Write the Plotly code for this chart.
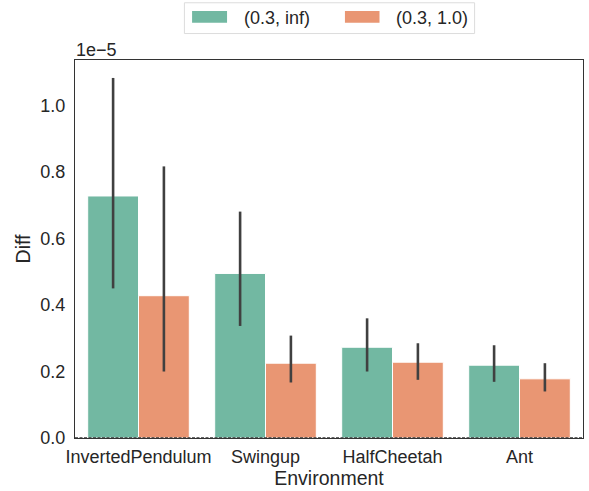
import plotly.graph_objects as go

categories = ["InvertedPendulum", "Swingup", "HalfCheetah", "Ant"]
scale = 1e-5
inf_mean = [0.728, 0.495, 0.273, 0.219]
inf_lo = [0.450, 0.337, 0.200, 0.169]
inf_hi = [1.083, 0.681, 0.360, 0.279]
one_mean = [0.428, 0.225, 0.228, 0.178]
one_lo = [0.200, 0.167, 0.175, 0.140]
one_hi = [0.817, 0.308, 0.285, 0.225]
tick_vals = [0.0, 0.2, 0.4, 0.6, 0.8, 1.0]
series_names = ["(0.3, inf)", "(0.3, 1.0)"]
colors = ["rgb(114,184,162)", "rgb(233,150,115)"]

W, H = 589, 491
L, R, T, B = 74.5, 6, 60, 52.5
pw, ph = W - L - R, H - T - B

def px(x):
    return (x - L) / pw

def py(y):
    return (H - B - y) / ph

def sc(v):
    return [x * scale for x in v]

fig = go.Figure()
for name, mean, lo, hi, col in [
    (series_names[0], inf_mean, inf_lo, inf_hi, colors[0]),
    (series_names[1], one_mean, one_lo, one_hi, colors[1]),
]:
    fig.add_trace(go.Bar(
        x=categories, y=sc(mean), name=name, showlegend=False,
        marker=dict(color=col, line=dict(color="white", width=1)),
        error_y=dict(type="data", symmetric=False,
                     array=[(h - m) * scale for h, m in zip(hi, mean)],
                     arrayminus=[(m - l) * scale for m, l in zip(mean, lo)],
                     color="#404040", thickness=2.6, width=0),
    ))

fig.add_shape(type="line", xref="paper", yref="y", x0=0, x1=1, y0=0, y1=0,
              layer="above", line=dict(color="#333333", width=1.5, dash="3px,1.5px"))

# legend drawn manually (wide patches like the reference)
fig.add_shape(type="rect", xref="paper", yref="paper",
              x0=px(184), x1=px(474.5), y0=py(33.5), y1=py(2.7),
              line=dict(color="#dcdcdc", width=1), fillcolor="white")
legend_items = [(191.7, 226.7, 242.3), (344.7, 379.3, 395)]
for (a, b, t), name, col in zip(legend_items, series_names, colors):
    fig.add_shape(type="rect", xref="paper", yref="paper",
                  x0=px(a), x1=px(b), y0=py(22.7), y1=py(11),
                  line=dict(width=0), fillcolor=col)
    fig.add_annotation(text=name, xref="paper", yref="paper", x=px(t), y=py(17.5),
                       xanchor="left", yanchor="middle", showarrow=False,
                       xshift=-1, font=dict(size=18, color="#262626"))

fig.add_annotation(text="1e\u22125", xref="paper", yref="paper", x=0, y=1.0,
                   xanchor="left", yanchor="bottom", showarrow=False,
                   font=dict(size=18, color="#262626"), yshift=-2, xshift=-1)

fig.update_layout(
    width=W, height=H,
    margin=dict(l=L, r=R, t=T, b=B, autoexpand=False),
    plot_bgcolor="white", paper_bgcolor="white",
    font=dict(family="Liberation Sans, Arial, sans-serif", size=18, color="#262626"),
    barmode="group", bargap=0.2, bargroupgap=0,
    showlegend=False,
    xaxis=dict(title=dict(text="Environment", standoff=0, font=dict(size=19.5)),
               showline=True, mirror=True, linecolor="#333333", linewidth=1.3,
               ticks="outside", ticklen=2, tickcolor="rgba(0,0,0,0)",
               showgrid=False, range=[-0.5, 3.5], automargin=False),
    yaxis=dict(title=dict(text="Diff", standoff=4, font=dict(size=19.5)),
               range=[0, 1.137 * scale],
               tickvals=sc(tick_vals), ticktext=[f"{t:.1f}" for t in tick_vals],
               showline=True, mirror=True, linecolor="#333333", linewidth=1.3,
               ticks="outside", ticklen=5, tickcolor="rgba(0,0,0,0)",
               showgrid=False, zeroline=False, automargin=False),
)

fig.write_html("out.html", config={"displayModeBar": False},
               post_script="document.body.style.margin='0';")
